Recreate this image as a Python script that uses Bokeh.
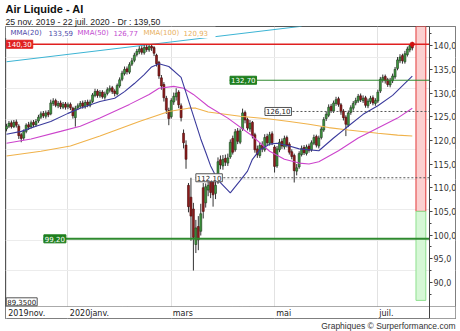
from bokeh.plotting import figure
from bokeh.models import Range1d, FixedTicker, Title, Label, ColumnDataSource
from bokeh.core.properties import value
from bokeh.embed import file_html
from bokeh.resources import INLINE

# ---------------- data ----------------
opens = [122.4, 123.0, 123.7, 122.9, 123.9, 123.0, 121.2, 120.5, 121.9, 123.3,
         122.9, 123.8, 123.3, 124.1, 124.9, 125.7, 125.1, 125.9, 125.6, 127.8,
         128.4, 127.3, 127.9, 127.0, 127.7, 127.1, 127.6, 126.8, 124.8, 126.9,
         127.2, 127.9, 127.1, 128.1, 127.4, 128.2, 129.5, 130.4, 129.4, 130.2,
         129.1, 129.9, 130.6, 131.1, 130.4, 129.8, 131.5, 132.9, 134.1, 135.1,
         134.4, 136.1, 136.9, 138.1, 138.7, 139.4, 138.5, 139.7, 139.1, 139.9,
         139.6, 138.0, 136.5, 133.2, 131.8, 128.9, 126.3, 125.0, 128.1, 129.2,
         130.2, 127.3, 121.5, 119.0, 110.5, 108.0, 105.5, 98.0, 101.8, 100.8,
         110.0, 106.8, 109.5, 111.5, 112.5, 108.8, 111.2, 115.9, 114.6, 116.2,
         115.2, 116.5, 120.4, 118.0, 122.0, 119.6, 122.4, 125.9, 124.4, 122.4,
         123.8, 121.2, 118.2, 116.8, 119.0, 118.0, 120.8, 119.4, 121.4, 118.6,
         114.6, 118.0, 119.8, 118.6, 120.6, 119.2, 117.6, 116.8, 113.5, 114.4,
         117.0, 118.5, 117.2, 118.8, 118.0, 119.4, 120.8, 118.8, 120.6, 122.2,
         124.6, 125.3, 127.2, 126.2, 127.8, 128.8, 127.5, 126.2, 124.9, 123.2,
         125.9, 126.8, 127.9, 128.3, 129.4, 128.4, 129.0, 127.3, 128.2, 129.0,
         127.8, 128.3, 130.4, 132.7, 133.5, 132.8, 131.7, 132.6, 133.4, 135.2,
         136.8, 137.9, 136.6, 138.1, 139.1, 140.1]
highs = [123.5, 124.1, 124.2, 124.3, 124.4, 123.4, 121.6, 122.3, 123.6, 123.9,
         124.2, 124.3, 124.5, 125.4, 126.1, 126.2, 126.3, 126.4, 128.6, 128.9,
         128.8, 128.3, 128.4, 128.1, 128.1, 128.0, 128.0, 127.1, 127.3, 127.8,
         128.3, 128.4, 128.5, 128.6, 128.6, 130.0, 130.9, 130.8, 130.6, 130.6,
         130.3, 131.2, 131.6, 131.5, 130.8, 132.0, 133.3, 134.7, 135.6, 135.6,
         136.5, 137.4, 138.5, 139.3, 139.9, 139.9, 140.1, 140.2, 140.3, 140.2,
         139.9, 138.3, 136.8, 133.8, 132.3, 129.4, 126.9, 128.9, 130.1, 131.0,
         130.6, 127.8, 122.3, 120.0, 111.0, 112.1, 106.8, 103.2, 104.0, 106.6,
         111.0, 110.9, 112.0, 112.4, 113.0, 111.6, 116.4, 116.8, 116.9, 117.0,
         117.2, 120.2, 121.0, 122.4, 122.6, 122.5, 126.7, 126.3, 124.8, 124.3,
         124.1, 121.6, 118.9, 119.5, 119.8, 121.3, 121.4, 121.8, 121.9, 119.0,
         118.8, 120.3, 120.4, 121.0, 121.0, 119.6, 118.1, 117.2, 115.0, 117.7,
         118.9, 119.0, 119.1, 119.3, 120.0, 121.2, 121.2, 121.0, 122.9, 124.9,
         126.1, 127.6, 127.7, 128.4, 129.2, 129.2, 127.9, 126.6, 125.3, 126.3,
         127.4, 128.3, 129.0, 129.8, 129.9, 129.5, 129.4, 128.8, 129.4, 129.5,
         128.9, 130.7, 133.4, 133.9, 133.9, 133.2, 133.2, 134.1, 135.5, 137.6,
         138.2, 138.3, 138.9, 139.8, 140.3, 140.3]
lows = [121.9, 122.6, 122.5, 122.6, 122.7, 120.3, 119.6, 120.1, 121.5, 122.2,
        122.5, 122.8, 122.9, 123.7, 124.5, 124.7, 124.6, 124.9, 125.3, 127.3,
        127.0, 126.8, 126.6, 126.6, 126.5, 126.6, 126.4, 124.6, 122.9, 126.4,
        126.8, 126.7, 126.7, 127.0, 127.0, 127.9, 129.1, 129.0, 129.0, 128.8,
        128.6, 129.5, 130.1, 129.8, 129.3, 129.5, 131.1, 132.5, 133.7, 133.9,
        134.0, 135.7, 136.5, 137.7, 138.2, 138.1, 138.1, 138.7, 138.7, 138.9,
        137.8, 135.6, 133.0, 130.7, 128.2, 125.6, 123.2, 124.6, 127.5, 128.4,
        126.8, 124.0, 118.3, 114.0, 104.8, 98.8, 92.5, 96.2, 96.8, 99.9,
        103.5, 105.8, 108.2, 107.8, 106.0, 107.6, 110.8, 113.9, 113.8, 114.6,
        114.6, 116.1, 117.0, 117.6, 119.2, 119.2, 122.0, 123.6, 122.1, 121.8,
        120.4, 117.4, 116.3, 116.3, 117.5, 117.6, 118.9, 118.9, 119.0, 113.2,
        114.2, 117.5, 118.2, 118.1, 118.5, 117.0, 116.0, 111.1, 112.6, 114.0,
        116.6, 116.9, 116.8, 117.4, 117.6, 119.0, 118.5, 118.3, 120.2, 121.8,
        124.1, 124.9, 125.8, 125.8, 127.3, 127.1, 125.4, 124.2, 120.9, 122.8,
        125.4, 126.3, 127.4, 127.9, 128.1, 127.9, 126.9, 126.8, 127.7, 127.4,
        127.3, 127.9, 130.0, 132.2, 132.0, 131.3, 131.2, 132.1, 133.0, 134.8,
        136.3, 136.2, 136.2, 137.7, 138.6, 139.0]
closes = [123.0, 123.6, 122.9, 123.8, 123.2, 121.0, 120.4, 121.9, 123.2, 122.8,
          123.7, 123.3, 124.0, 124.9, 125.6, 125.2, 125.8, 125.4, 127.9, 128.3,
          127.4, 127.8, 127.1, 127.6, 127.0, 127.5, 126.9, 125.2, 126.8, 127.3,
          127.8, 127.2, 128.0, 127.5, 128.1, 129.6, 130.3, 129.5, 130.1, 129.2,
          129.8, 130.7, 131.0, 130.3, 129.9, 131.6, 132.8, 134.2, 135.0, 134.5,
          136.0, 136.8, 138.0, 138.8, 139.3, 138.6, 139.6, 139.2, 139.8, 139.5,
          138.4, 136.2, 133.6, 131.5, 129.0, 126.4, 124.6, 128.4, 129.3, 130.0,
          127.5, 124.8, 119.5, 116.0, 106.0, 104.0, 99.5, 101.5, 99.0, 104.5,
          105.0, 110.2, 110.5, 109.0, 108.5, 110.5, 115.5, 114.8, 116.0, 115.4,
          116.3, 119.6, 117.5, 121.8, 119.8, 122.0, 125.8, 124.3, 122.6, 123.6,
          121.0, 118.0, 117.0, 118.9, 118.2, 120.6, 119.5, 121.2, 119.5, 114.5,
          118.2, 119.6, 118.8, 120.4, 119.0, 117.5, 116.6, 113.6, 114.2, 117.2,
          118.3, 117.4, 118.6, 117.9, 119.5, 120.6, 119.0, 120.5, 122.4, 124.4,
          125.5, 127.0, 126.3, 127.9, 128.6, 127.6, 126.0, 124.8, 123.4, 125.8,
          126.9, 127.8, 128.4, 129.3, 128.6, 128.9, 127.4, 128.3, 128.9, 127.9,
          128.4, 130.2, 132.9, 133.3, 132.6, 131.8, 132.7, 133.6, 135.0, 137.0,
          137.6, 136.8, 138.3, 139.3, 140.0, 139.5]

x_tick_idx = [0, 25, 67, 109, 151]
x_tick_labels = ["2019nov.", "2020janv.", "mars", "mai", "juil."]
y_ticks = [90, 95, 100, 105, 110, 115, 120, 125, 130, 135, 140]
y_tick_labels = ["90,0", "95,0", "100,0", "105,0", "110,0", "115,0",
                 "120,0", "125,0", "130,0", "135,0", "140,0"]
grid_levels = [92.5, 98.9, 105.3, 111.7, 118.1, 124.5, 131.0, 137.4]

mma20_idx = [0, 6, 12, 18, 25, 30, 38, 44, 48, 52, 56, 59, 62, 66, 71, 75, 79, 81,
             83, 86, 91, 95, 98, 100, 103, 107, 110, 115, 119, 127, 133, 138, 145,
             151, 157, 165]
mma20_val = [121.3, 121.9, 123.0, 124.0, 125.7, 126.8, 128.2, 128.9, 130.3, 132.0,
             133.9, 135.5, 136.2, 135.6, 133.3, 126.8, 120.3, 117.5, 114.6, 111.6,
             108.9, 111.5, 113.5, 116.0, 118.0, 119.2, 119.4, 118.8, 118.2, 117.8,
             120.5, 122.6, 125.5, 127.3, 129.5, 133.59]
mma50_idx = [0, 10, 22, 30, 38, 50, 58, 62, 68, 72, 76, 82, 90, 99, 107, 113, 119,
             123, 127, 135, 143, 151, 159, 165]
mma50_val = [119.4, 120.3, 121.9, 123.0, 124.7, 127.6, 129.7, 131.0, 131.4, 131.0,
             129.7, 127.2, 124.7, 121.3, 117.7, 116.0, 115.2, 115.0, 115.5, 117.8,
             120.5, 122.6, 124.7, 126.77]
mma100_idx = [0, 14, 26, 38, 54, 66, 74, 77, 82, 95, 107, 115, 123, 131, 139, 151,
              159, 165]
mma100_val = [116.7, 117.7, 118.8, 120.9, 124.0, 126.1, 126.8, 126.8, 126.0, 125.1,
              124.5, 124.0, 123.4, 122.7, 122.2, 121.5, 121.1, 120.93]

trend_idx = [0, 120]
trend_val = [136.6, 144.1]

level_high = 140.30
level_res = 132.70
level_mid = 126.10
level_low_mid = 112.10
level_support = 99.20
range_low_label = "89,3500"
band_split = 105.0
band_low = 86.2

title_txt = "Air Liquide - AI"
subtitle_txt = "25 nov. 2019 - 22 juil. 2020 - Dr : 139,50"
footer_txt = "Graphiques © Surperformance.com"


def fr(v, n=2):
    return f"{v:.{n}f}".replace(".", ",")


# ---------------- geometry ----------------
# the frame is the whole chart box; the price panel ends where the axes sit
PX_PER_IDX = 424.0 / 172.4
PX_PER_UNIT = 281.0 / 59.15
X0 = -0.4
AXIS_X = 172.0                      # right edge of the price panel
X1 = X0 + 450.0 / PX_PER_IDX        # right edge of the chart box
Y1 = 144.05
AXIS_Y = 84.9                       # bottom edge of the price panel
Y0 = Y1 - 293.0 / PX_PER_UNIT       # bottom edge of the chart box
edge = "#555555"

p = figure(width=460, height=331, x_range=Range1d(X0, X1), y_range=Range1d(Y0, Y1),
           y_axis_location="right", toolbar_location=None, output_backend="svg",
           min_border_left=5, min_border_right=5, min_border_top=25,
           min_border_bottom=13, background_fill_color="white",
           border_fill_color="white")
p.outline_line_color = edge
p.outline_line_width = 1

# titles
p.add_layout(Title(text=subtitle_txt, align="left", text_font="Liberation Sans",
                   text_font_size="8.7px", text_font_style="normal",
                   text_color="#222222", standoff=0), "above")
p.add_layout(Title(text=title_txt, align="left", text_font="Liberation Sans",
                   text_font_size="11px", text_font_style="bold",
                   text_color="#111111", standoff=0), "above")
p.add_layout(Title(text=footer_txt, align="right", text_font="Liberation Sans",
                   text_font_size="8.5px", text_font_style="normal",
                   text_color="#333333", standoff=1), "below")

# x axis: month labels start just right of the month boundary
label_half_w = [18.8, 20.0, 10.1, 7.6, 7.1]   # approx. px half-widths, 8px DejaVu Sans
label_pos = [t + (w + 1.5) / PX_PER_IDX for t, w in zip(x_tick_idx, label_half_w)]
xa = p.xaxis[0]
xa.fixed_location = AXIS_Y
xa.ticker = FixedTicker(ticks=label_pos)
xa.major_label_overrides = dict(zip(label_pos, x_tick_labels))
xa.major_label_text_font = "DejaVu Sans"
xa.major_label_text_font_size = "8px"
xa.major_label_text_color = "#222222"
xa.major_label_standoff = 2
xa.major_tick_in = 0
xa.major_tick_out = 0
xa.minor_tick_line_color = None
xa.axis_line_color = edge
xa.axis_line_dash = "1 1"

ya = p.yaxis[0]
ya.fixed_location = AXIS_X
ya.ticker = FixedTicker(ticks=y_ticks, minor_ticks=[t - 2.5 for t in y_ticks] + [142.5])
ya.major_label_overrides = dict(zip(y_ticks, y_tick_labels))
ya.major_label_text_font = "DejaVu Sans"
ya.major_label_text_font_size = "8px"
ya.major_label_text_color = "#333333"
ya.major_label_standoff = 1
ya.major_tick_in = 0
ya.major_tick_out = 3
ya.minor_tick_in = 0
ya.minor_tick_out = 2
ya.axis_line_color = "#444444"
ya.major_tick_line_color = "#444444"
ya.minor_tick_line_color = "#444444"

p.xgrid.ticker = FixedTicker(ticks=x_tick_idx)
p.ygrid.ticker = FixedTicker(ticks=grid_levels)
p.xgrid.grid_line_color = "#e2e2e2"
p.ygrid.grid_line_color = "#ececec"

# keep the label strips (right of / below the price panel) clean
p.quad(left=[AXIS_X], right=[X1], bottom=[Y0], top=[Y1], fill_color="white", line_color=None)
p.quad(left=[X0], right=[X1], bottom=[Y0], top=[AXIS_Y], fill_color="white", line_color=None)

# right gauge band
p.quad(left=[166.5], right=[170.5], bottom=[band_split], top=[Y1],
       fill_color="#fbd0d0", line_color="#e23a3a", line_width=1)
p.quad(left=[166.5], right=[170.5], bottom=[band_low], top=[band_split],
       fill_color="#d6f7d6", line_color="#8fe08f", line_width=1)

# trend line
p.line(trend_idx, trend_val, line_color="#3cb4d4", line_width=1)

# candles
idx = list(range(len(closes)))
up = [c >= o for o, c in zip(opens, closes)]
src = ColumnDataSource(dict(
    x=idx, h=highs, l=lows,
    top=[max(o, c) for o, c in zip(opens, closes)],
    bot=[min(o, c) for o, c in zip(opens, closes)],
    fill=["#3f9a3f" if u else "#8e1c1c" for u in up],
    edge=["#1c3a1c" if u else "#4a0c0c" for u in up],
))
p.segment(x0="x", y0="h", x1="x", y1="l", source=src, line_color="#333333", line_width=1)
p.vbar(x="x", width=0.8, top="top", bottom="bot", source=src,
       fill_color="fill", line_color="edge", line_width=0.6)

# moving averages
p.line(mma100_idx, mma100_val, line_color="#f0b24a", line_width=1.1)
p.line(mma50_idx, mma50_val, line_color="#cc44cc", line_width=1.1)
p.line(mma20_idx, mma20_val, line_color="#3a3a9c", line_width=1.1)

# levels
p.segment(x0=[X0], y0=[level_high], x1=[AXIS_X], y1=[level_high], line_color="#e02020", line_width=1.5)
p.segment(x0=[90.7], y0=[level_res], x1=[AXIS_X], y1=[level_res], line_color="#2f8a2f", line_width=1)
p.segment(x0=[104.9], y0=[level_mid], x1=[AXIS_X], y1=[level_mid], line_color="#555555",
          line_width=1, line_dash="2 2")
p.segment(x0=[76.8], y0=[level_low_mid], x1=[AXIS_X], y1=[level_low_mid], line_color="#555555",
          line_width=1, line_dash="2 2")
p.segment(x0=[15.0], y0=[level_support], x1=[AXIS_X], y1=[level_support], line_color="#2f8a2f",
          line_width=2)

# last price marker
p.scatter([idx[-1]], [highs[-1]], marker="asterisk", size=5, line_color="#d01010", line_width=1.5)

# legend strip
p.quad(left=[X0], right=[85.0], bottom=[141.6], top=[Y1], fill_color="white",
       line_color=None)
leg_x = [1.6, 17.1, 28.9, 43.5, 55.7, 72.0]
leg_txt = ["MMA(20)", fr(mma20_val[-1]), "MMA(50)", fr(mma50_val[-1]), "MMA(100)", fr(mma100_val[-1])]
leg_col = ["#4a4aa8", "#4a4aa8", "#c24cd0", "#c24cd0", "#e8b060", "#e8b060"]
p.text(x=leg_x, y=[142.75] * 6, text=leg_txt, text_color=leg_col,
       text_font=value("DejaVu Sans"), text_font_size="7px", text_baseline="middle")


def box_label(x, y, txt, bg, fg, border):
    p.add_layout(Label(x=x, y=y, text=txt, text_font="DejaVu Sans", text_font_size="7px",
                       text_color=fg, text_baseline="middle", text_align="left",
                       background_fill_color=bg, border_line_color=border,
                       padding=1))


box_label(-0.1, level_high, fr(level_high), "#e02020", "white", "#e02020")
box_label(90.9, level_res, fr(level_res), "#1f7f1f", "white", "#1f7f1f")
box_label(105.1, level_mid, fr(level_mid), "white", "#222222", "#555555")
box_label(77.0, level_low_mid, fr(level_low_mid), "white", "#222222", "#555555")
box_label(15.2, level_support, fr(level_support), "#1f7f1f", "white", "#1f7f1f")
box_label(-0.1, 85.9, range_low_label, "white", "#222222", "#555555")

open("out.html", "w").write(file_html(p, INLINE))
